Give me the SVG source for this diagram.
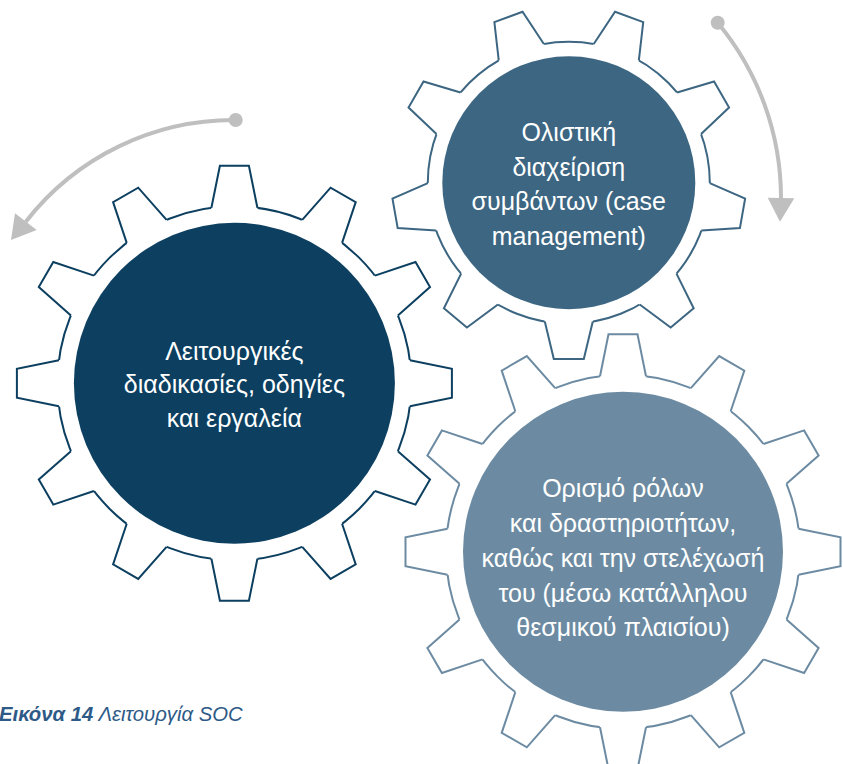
<svg xmlns="http://www.w3.org/2000/svg" xmlns:xlink="http://www.w3.org/1999/xlink" width="843" height="764" viewBox="0 0 843 764">
<style>
.root{fill:#fff;stroke-width:2}
.tf{fill:#fff;stroke:none}
.to{fill:none;stroke-linejoin:miter}
.lbl{font-family:"Liberation Sans",Arial,sans-serif;font-size:25px;fill:#fff;text-anchor:middle}
.arc{fill:none;stroke:#bfbfbf;stroke-width:4}
.ah{fill:#bfbfbf}
.cap{font-family:"Liberation Sans",Arial,sans-serif;font-size:20.3px;font-style:italic;fill:#2e5a87}
</style>
<defs>
<g id="t1"><polygon class="tf" points="-24.2,-169.6 -14.5,-217.5 14.5,-217.5 24.2,-169.6"/><polyline class="to" points="-23,-175.5 -14.5,-217.5 14.5,-217.5 23,-175.5"/></g>
<g id="t2"><polygon class="tf" points="-25.4,-133.1 -15,-176.4 15,-176.4 25.4,-133.1"/><polyline class="to" points="-24,-138.9 -15,-176.4 15,-176.4 24,-138.9"/></g>
</defs>

<g id="connectors">
<circle cx="235.7" cy="120" r="7" class="ah"/>
<path class="arc" d="M235.7,120 A263.5,263.5 0 0 0 25.8,221.7"/>
<polygon class="ah" points="11,240 15,213.3 36.7,230"/>
<circle cx="717.7" cy="22.7" r="7" class="ah"/>
<path class="arc" d="M717.7,22.7 A275,275 0 0 1 781,198"/>
<polygon class="ah" points="780,221.7 767.7,197.7 794.3,198.3"/>
</g>

<g id="gear1" transform="translate(234.4,383.3)" stroke="#0c3f60" stroke-width="2">
<circle r="177" class="root"/>
<use xlink:href="#t1"/>
<use xlink:href="#t1" transform="rotate(30)"/>
<use xlink:href="#t1" transform="rotate(60)"/>
<use xlink:href="#t1" transform="rotate(90)"/>
<use xlink:href="#t1" transform="rotate(120)"/>
<use xlink:href="#t1" transform="rotate(150)"/>
<use xlink:href="#t1" transform="rotate(180)"/>
<use xlink:href="#t1" transform="rotate(210)"/>
<use xlink:href="#t1" transform="rotate(240)"/>
<use xlink:href="#t1" transform="rotate(270)"/>
<use xlink:href="#t1" transform="rotate(300)"/>
<use xlink:href="#t1" transform="rotate(330)"/>
<circle r="160.5" fill="#0c3f60" stroke="none"/>
<text class="lbl" stroke="none" x="0" y="-23.3">Λειτουργικές</text>
<text class="lbl" stroke="none" x="0" y="10">διαδικασίες, οδηγίες</text>
<text class="lbl" stroke="none" x="0" y="44">και εργαλεία</text>
</g>

<g id="gear2" transform="translate(568.8,182.7)" stroke="#3c6682" stroke-width="2">
<circle r="141" class="root"/>
<use xlink:href="#t2" transform="rotate(20)"/>
<use xlink:href="#t2" transform="rotate(60)"/>
<use xlink:href="#t2" transform="rotate(100)"/>
<use xlink:href="#t2" transform="rotate(140)"/>
<use xlink:href="#t2" transform="rotate(180)"/>
<use xlink:href="#t2" transform="rotate(220)"/>
<use xlink:href="#t2" transform="rotate(260)"/>
<use xlink:href="#t2" transform="rotate(300)"/>
<use xlink:href="#t2" transform="rotate(340)"/>
<circle r="126.5" fill="#3c6682" stroke="none"/>
<text class="lbl" stroke="none" x="0" y="-41.5">Ολιστική</text>
<text class="lbl" stroke="none" x="0" y="-7">διαχείριση</text>
<text class="lbl" stroke="none" x="0" y="27.3">συμβάντων (case</text>
<text class="lbl" stroke="none" x="0" y="62.3">management)</text>
</g>

<g id="gear3" transform="translate(623,551.7)" stroke="#6c8ba2" stroke-width="2">
<circle r="177" class="root"/>
<use xlink:href="#t1"/>
<use xlink:href="#t1" transform="rotate(30)"/>
<use xlink:href="#t1" transform="rotate(60)"/>
<use xlink:href="#t1" transform="rotate(90)"/>
<use xlink:href="#t1" transform="rotate(120)"/>
<use xlink:href="#t1" transform="rotate(150)"/>
<use xlink:href="#t1" transform="rotate(180)"/>
<use xlink:href="#t1" transform="rotate(210)"/>
<use xlink:href="#t1" transform="rotate(240)"/>
<use xlink:href="#t1" transform="rotate(270)"/>
<use xlink:href="#t1" transform="rotate(300)"/>
<use xlink:href="#t1" transform="rotate(330)"/>
<circle r="160" fill="#6c8ba2" stroke="none"/>
<text class="lbl" stroke="none" x="0" y="-55">Ορισμό ρόλων</text>
<text class="lbl" stroke="none" x="0" y="-19.7">και δραστηριοτήτων,</text>
<text class="lbl" stroke="none" x="0" y="15.6">καθώς και την στελέχωσή</text>
<text class="lbl" stroke="none" x="0" y="50">του (μέσω κατάλληλου</text>
<text class="lbl" stroke="none" x="0" y="84.3">θεσμικού πλαισίου)</text>
</g>

<g id="caption">
<text class="cap" x="-1" y="721"><tspan font-weight="bold">Εικόνα 14</tspan> Λειτουργία SOC</text>
</g>
</svg>
